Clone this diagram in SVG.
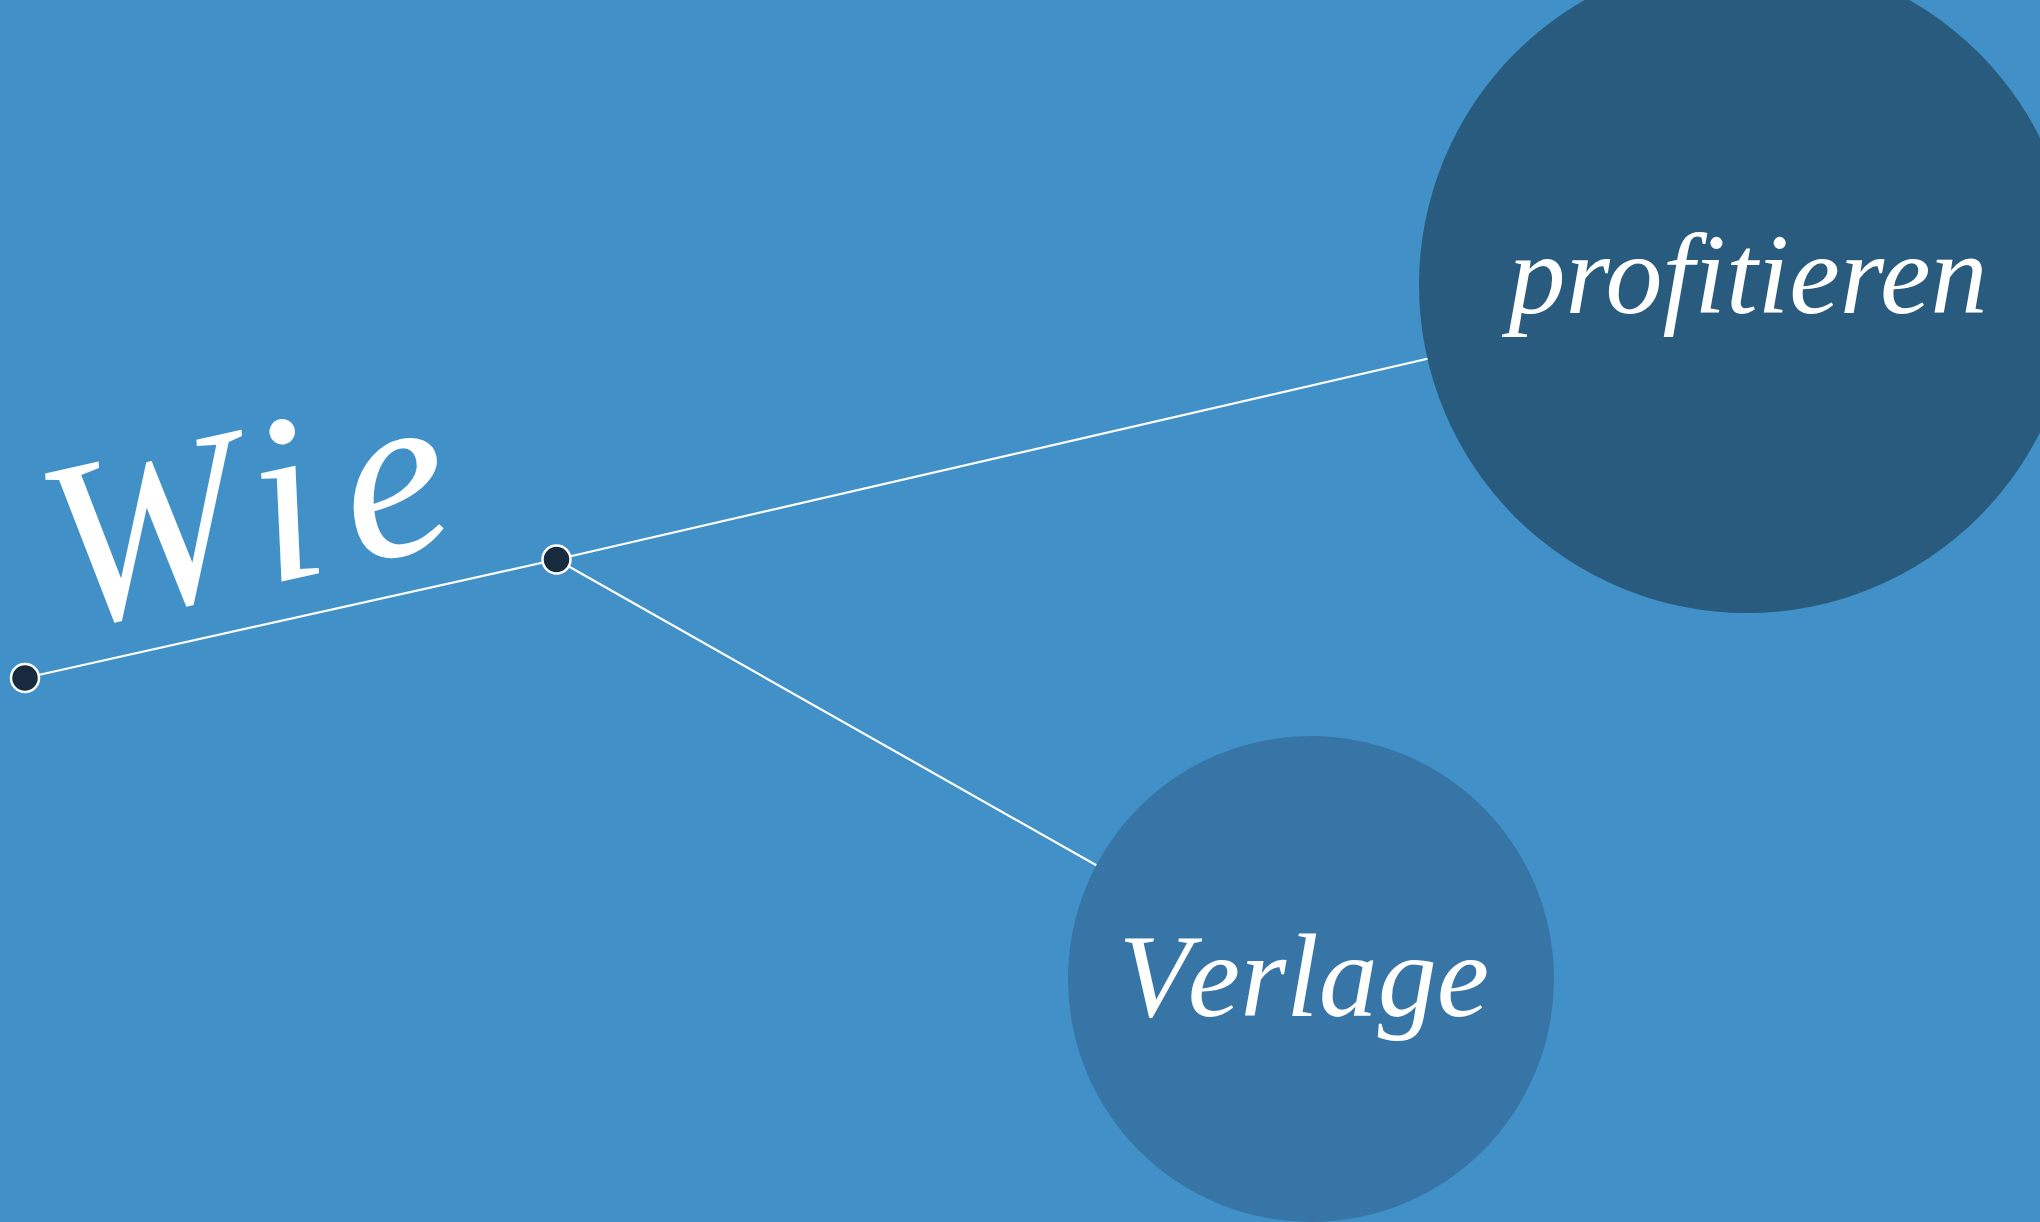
<svg xmlns="http://www.w3.org/2000/svg" width="2040" height="1222" viewBox="0 0 2040 1222">
  <style>
    .edge { stroke: #ffffff; stroke-width: 2.2; fill: none; }
    .joint { fill: #172a3e; stroke: #ffffff; stroke-width: 2.5; }
    .label { fill: #ffffff; font-family: "Liberation Serif", "DejaVu Serif", serif; font-style: italic; text-anchor: middle; }
  </style>

  <!-- backdrop -->
  <rect x="0" y="0" width="2040" height="1222" fill="#4191c8"/>

  <!-- connectors -->
  <g id="connectors">
    <line class="edge" x1="25" y1="678" x2="556.5" y2="559.5"/>
    <line class="edge" x1="556.5" y1="559.5" x2="1500" y2="342"/>
    <line class="edge" x1="556.5" y1="559.5" x2="1200" y2="924"/>
  </g>

  <!-- branch label -->
  <g id="label-wie">
    <text class="label" font-size="240" letter-spacing="24" transform="translate(262 586) rotate(-12.6) translate(12 0)">Wie</text>
  </g>

  <!-- target nodes -->
  <g id="node-profitieren">
    <circle cx="1747" cy="285" r="328" fill="#295b7e"/>
    <text class="label" x="1748" y="313" font-size="114">profitieren</text>
  </g>

  <g id="node-verlage">
    <circle cx="1311" cy="979" r="243" fill="#3675a5"/>
    <text class="label" x="1304" y="1016" font-size="118">V<tspan dx="10">erlage</tspan></text>
  </g>

  <!-- junction points -->
  <g id="node-start">
    <circle class="joint" cx="25" cy="678" r="14"/>
  </g>
  <g id="node-split">
    <circle class="joint" cx="556.5" cy="559.5" r="14"/>
  </g>
</svg>
